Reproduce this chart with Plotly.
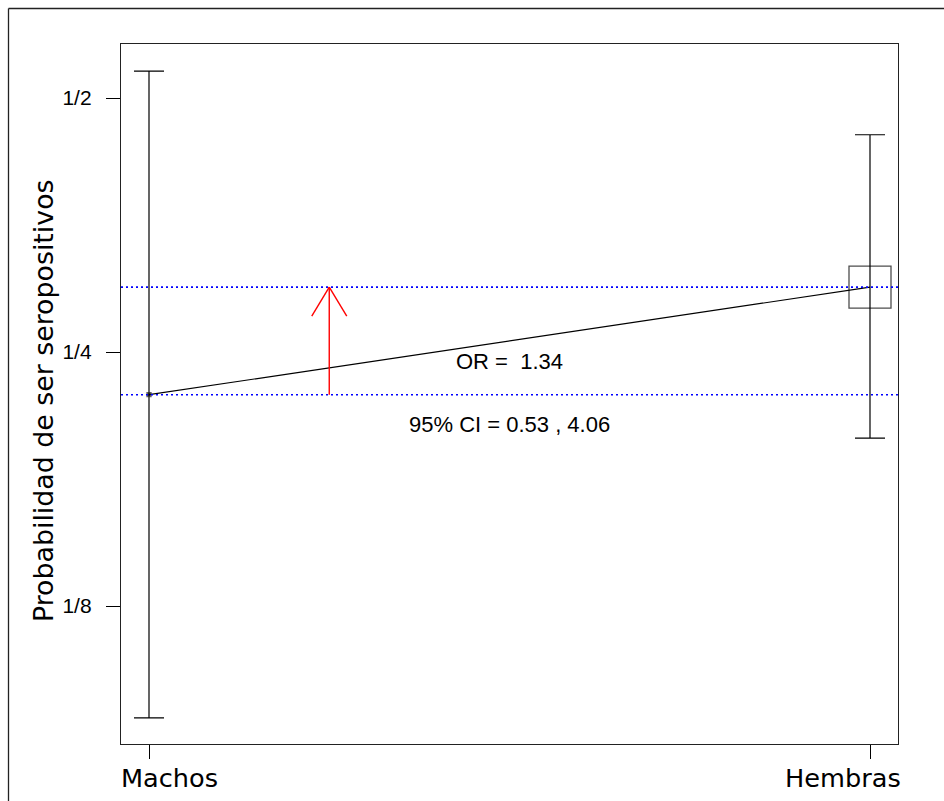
import math
import plotly.graph_objects as go

# ---- data ----
groups = ["Machos", "Hembras"]
group_pos = [1, 2]
prob = [0.2225, 0.2984]
ci_low = [0.0921, 0.1976]
ci_high = [0.538, 0.4523]
marker_sizes = [4, 42]
y_tickvals = [0.5, 0.25, 0.125]
y_ticktext = ["1/2", "1/4", "1/8"]
or_value = 1.34
or_ci = [0.53, 4.06]
arrow_x = 1.25
text_x = 1.5

W, H = 944, 801
L, R, T, B = 121, 46, 44, 57
PW, PH = W - L - R, H - T - B

def lg(v):
    return math.log10(v)

top_l2 = -1 + 54 / 254
bot_l2 = -3 - 138 / 254
x_range = [1 - 28 / 721, 2 + 28 / 721]
y_range = [bot_l2 * math.log10(2), top_l2 * math.log10(2)]
px_per_x = PW / (x_range[1] - x_range[0])
px_per_ylog = PH / (y_range[1] - y_range[0])

fig = go.Figure()

# connecting line
fig.add_trace(go.Scatter(
    x=group_pos, y=prob, mode="lines",
    line=dict(color="black", width=1.2), hoverinfo="skip", showlegend=False))

# points with CIs
fig.add_trace(go.Scatter(
    x=group_pos, y=prob, mode="markers",
    marker=dict(symbol=["square", "square-open"], size=marker_sizes,
                color="black", line=dict(color="#222222", width=1.3)),
    error_y=dict(type="data", symmetric=False,
                 array=[h - p for h, p in zip(ci_high, prob)],
                 arrayminus=[p - l for p, l in zip(prob, ci_low)],
                 color="black", thickness=1.2, width=15),
    showlegend=False))

shapes = []
# blue dotted reference lines (shape coords on log axes are data values)
for p in prob:
    shapes.append(dict(type="line", xref="paper", yref="y", x0=0, x1=1,
                       y0=p, y1=p, layer="above",
                       line=dict(color="#0000FF", width=1.6, dash="2px,3px")))
# red arrow (open V head like R's arrows())
red = dict(color="#FF0000", width=1.4)
shapes.append(dict(type="line", xref="x", yref="y", x0=arrow_x, x1=arrow_x,
                   y0=prob[0], y1=prob[1], line=red))
head_dx = 17.5 / px_per_x
head_y = 10 ** (lg(prob[1]) - 29 / px_per_ylog)
for sgn in (-1, 1):
    shapes.append(dict(type="line", xref="x", yref="y",
                       x0=arrow_x, y0=prob[1],
                       x1=arrow_x + sgn * head_dx, y1=head_y, line=red))
# outer frame (top & left visible)
shapes.append(dict(type="line", xref="paper", yref="paper",
                   x0=(8.5 - L) / PW, x1=(W + 20 - L) / PW,
                   y0=(H - B - 8.5) / PH, y1=(H - B - 8.5) / PH,
                   line=dict(color="#222222", width=1.3)))
shapes.append(dict(type="line", xref="paper", yref="paper",
                   x0=(8.5 - L) / PW, x1=(8.5 - L) / PW,
                   y0=(H - B - 8.5) / PH, y1=(H - B - H - 20) / PH,
                   line=dict(color="#222222", width=1.3)))

mid = (lg(prob[0]) + lg(prob[1])) / 2
annotations = [
    dict(x=text_x, y=mid, xref="x", yref="y", text=f"OR =  {or_value:.2f}",
         showarrow=False, yshift=-21, yanchor="middle",
         font=dict(family="Liberation Sans, Arial", size=22, color="black")),
    dict(x=text_x, y=lg(prob[0]), xref="x", yref="y",
         text=f"95% CI = {or_ci[0]:.2f} , {or_ci[1]:.2f}",
         showarrow=False, yshift=-30, yanchor="middle",
         font=dict(family="Liberation Sans, Arial", size=22, color="black")),
    dict(x=(43 - L) / PW, y=(H - B - 401) / PH, xref="paper", yref="paper",
         text="Probabilidad de ser seropositivos", textangle=-90,
         showarrow=False, xanchor="center", yanchor="middle",
         font=dict(family="DejaVu Sans", size=26.8, color="black")),
    dict(x=group_pos[0], y=0, xref="x", yref="paper", text=groups[0],
         showarrow=False, xanchor="left", yanchor="top", xshift=-30, yshift=-17,
         font=dict(family="DejaVu Sans", size=25.6, color="black")),
    dict(x=group_pos[1], y=0, xref="x", yref="paper", text=groups[1],
         showarrow=False, xanchor="right", yanchor="top", xshift=33, yshift=-17,
         font=dict(family="DejaVu Sans", size=25.6, color="black")),
]

fig.update_layout(
    width=W, height=H,
    margin=dict(l=L, r=R, t=T, b=B, pad=0, autoexpand=False),
    paper_bgcolor="white", plot_bgcolor="white",
    shapes=shapes, annotations=annotations,
    xaxis=dict(range=x_range, tickvals=group_pos,
               showticklabels=False, automargin=False,
               ticks="outside", ticklen=14, tickwidth=1.2,
               tickcolor="black", showline=True, linecolor="#222222",
               linewidth=1.3, mirror=True, showgrid=False, zeroline=False),
    yaxis=dict(type="log", range=y_range,
               tickvals=y_tickvals, ticktext=y_ticktext, ticks="outside",
               ticklen=14, tickwidth=1.2, tickcolor="black", showline=True,
               linecolor="#222222", linewidth=1.3, mirror=True, showgrid=False,
               zeroline=False, ticklabelstandoff=10, automargin=False,
               tickfont=dict(family="Liberation Sans, Arial", size=21, color="black")),
)

fig.write_html("out.html")
